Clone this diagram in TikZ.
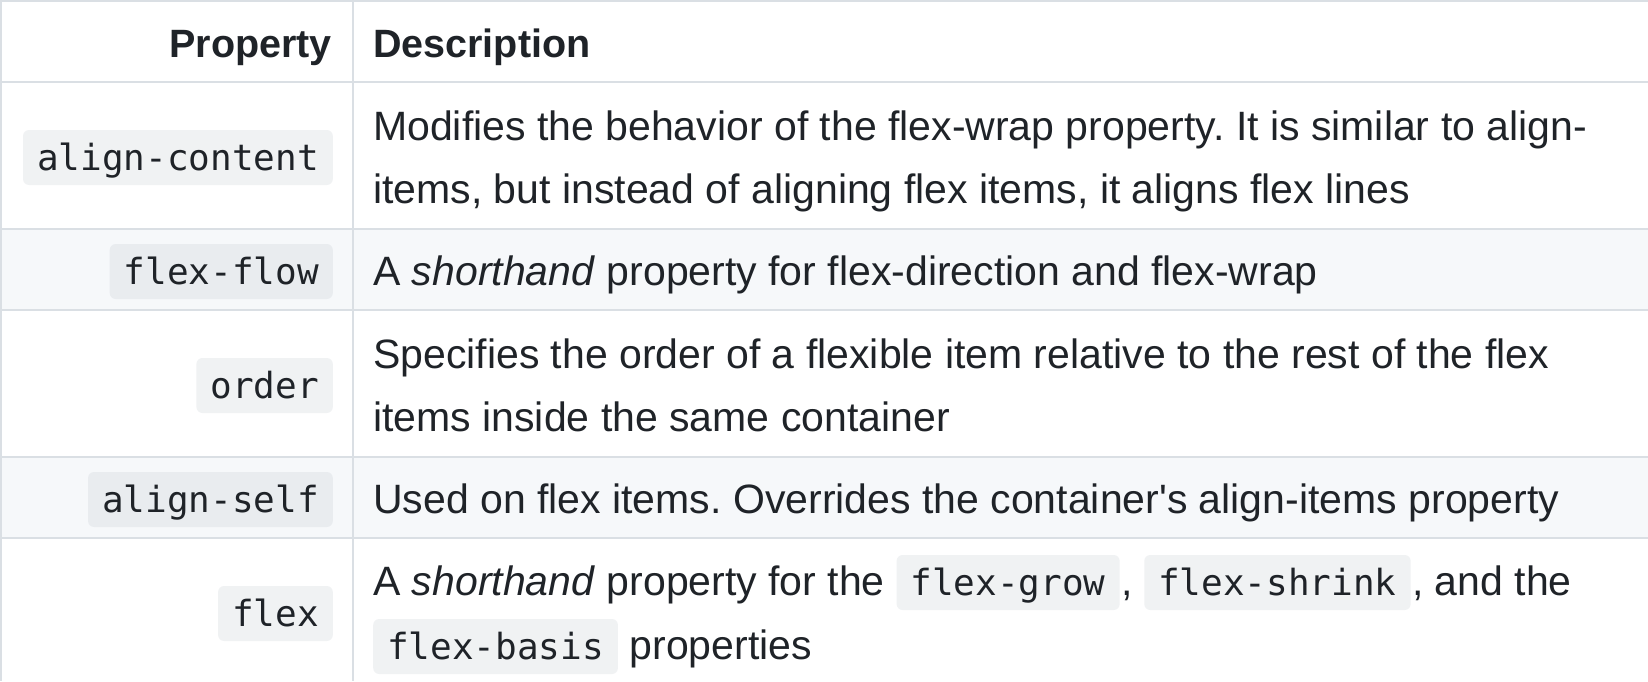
\documentclass[tikz,border=0pt]{standalone}
\usepackage{fontspec}
\setmainfont{Liberation Sans}
\newfontfamily\plainsans{Liberation Sans}
\newfontfamily\codefont{DejaVu Sans Mono}
\frenchspacing
\definecolor{ink}{HTML}{1F2328}
\definecolor{rule}{HTML}{DADFE4}
\definecolor{stripe}{HTML}{F6F8FA}
\definecolor{codegray}{HTML}{AFB8C1}
\tikzset{
  txt/.style={anchor=base west, inner sep=0pt, text=ink, font=\fontsize{41}{63}\selectfont},
  head/.style={inner sep=0pt, text=ink, font=\fontsize{39.5}{60}\selectfont\bfseries},
  code/.style={inner xsep=14pt, inner ysep=0pt, text height=40pt, text depth=15pt,
    fill=codegray, fill opacity=0.18, text opacity=1, text=ink, rounded corners=6pt,
    font=\fontsize{36}{40}\selectfont\codefont},
  pcode/.style={code, anchor=base east},
  icode/.style={code, anchor=base west},
  gridline/.style={draw=rule, line width=2.5pt},
}
\begin{document}
\begin{tikzpicture}[x=1pt,y=-1pt]
\useasboundingbox (0,0) rectangle (1648,681);
\fill[white] (0,0) rectangle (1648,681);
% striped rows
\fill[stripe] (0,229) rectangle (1648,310);
\fill[stripe] (0,457) rectangle (1648,538);
% grid
\foreach \yy in {1.2,82,229,310,457,538} \draw[gridline] (0,\yy) -- (1648,\yy);
\draw[gridline] (1.2,0) -- (1.2,681);
\draw[gridline] (353,0) -- (353,681);
% header
\node[head, anchor=base east] (hprop) at (332,57) {Property};
\node[head, anchor=base west] (hdesc) at (373,57) {Description};
% property column
\node[pcode] (p1) at (333,170) {align-content};
\node[pcode] (p2) at (333,284) {flex-flow};
\node[pcode] (p3) at (333,398) {order};
\node[pcode] (p4) at (333,512) {align-self};
\node[pcode] (p5) at (333,626) {flex};
% descriptions
\node[txt] (d1a) at (373,140) {Modifies the behavior of the flex-wrap property. It is similar to align-};
\node[txt] (d1b) at (373,203) {items, but instead of aligning flex items, it aligns flex lines};
\node[txt] (d2) at (373,285) {A \textit{shorthand} property for flex-direction and flex-wrap};
\node[txt] (d3a) at (373,368) {Specifies the order of a flexible item relative to the rest of the flex};
\node[txt] (d3b) at (373,431) {items inside the same container};
\node[txt] (d4) at (373,513) {Used on flex items. Overrides the container{\plainsans'}s align-items property};
\node[txt] (d5a) at (373,595) {A \textit{shorthand} property for the};
\node[icode] (c1) at ([xshift=11.4pt]d5a.base east) {flex-grow};
\node[txt] (d5b) at ([xshift=1pt]c1.base east) {,};
\node[icode] (c2) at ([xshift=11.4pt]d5b.base east) {flex-shrink};
\node[txt] (d5c) at ([xshift=1pt]c2.base east) {, and the};
\node[icode] (c3) at (373,659) {flex-basis};
\node[txt] (d5d) at ([xshift=11.4pt]c3.base east) {properties};
\end{tikzpicture}
\end{document}
